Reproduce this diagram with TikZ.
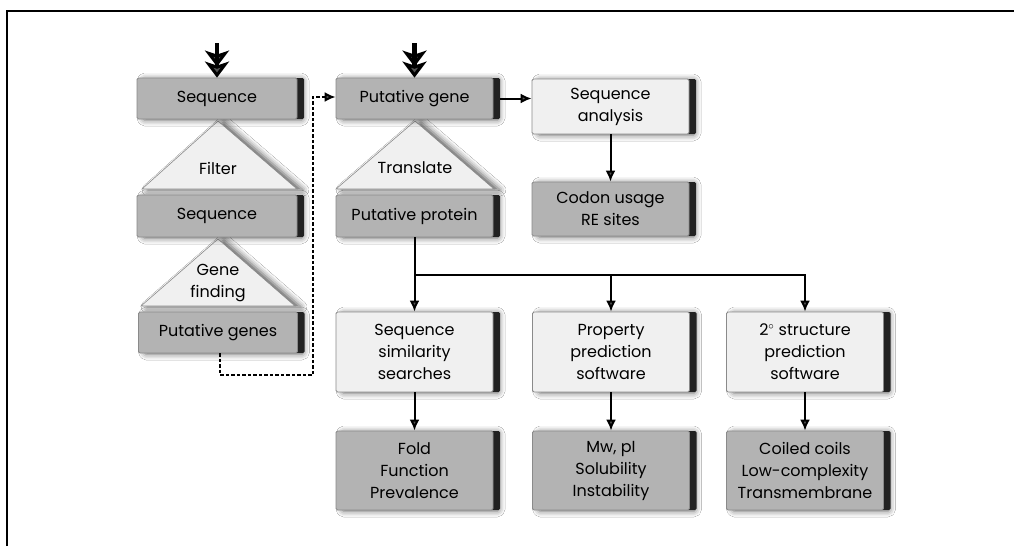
\documentclass[tikz,border=0pt]{standalone}
\usepackage{fontspec}
\setmainfont{Poppins}
\usetikzlibrary{arrows.meta,shadows.blur,calc}
\definecolor{boxdark}{HTML}{B3B3B3}
\definecolor{boxlight}{HTML}{F0F0F0}
\definecolor{edgegray}{HTML}{8A8A8A}
\definecolor{stripcol}{HTML}{222222}
\tikzset{
  boxbase/.style={draw=edgegray, line width=0.8pt, rounded corners=1.5pt,
    minimum width=157pt, align=center, inner sep=0pt,
    font=\fontsize{16}{22}\selectfont,
    blur shadow={shadow xshift=6pt, shadow yshift=-1pt, shadow blur radius=6pt, shadow opacity=60},
    general shadow={fill=stripcol, shadow xshift=7pt, shadow yshift=0pt}},
  darkbox/.style={boxbase, fill=boxdark},
  lightbox/.style={boxbase, fill=boxlight},
  tri/.style={fill=boxlight, draw=edgegray, line width=0.6pt,
    blur shadow={shadow xshift=6pt, shadow yshift=-1pt, shadow blur radius=6pt, shadow opacity=65}},
  trilabel/.style={align=center, font=\fontsize{16}{22}\selectfont, inner sep=0pt},
  conn/.style={line width=2pt, -{Latex[length=11pt,width=10pt]}},
  toparrow/.style={line width=4.5pt, -{Stealth[length=16pt,width=24pt,inset=4pt]}},
  dashconn/.style={line width=2pt, dash pattern=on 3.5pt off 2pt, -{Latex[length=11pt,width=10pt]}},
  frameline/.style={line width=2pt}
}
\begin{document}
\begin{tikzpicture}[x=1pt,y=-1pt]
\useasboundingbox (0,0) rectangle (1014,546);
\fill[white] (0,0) rectangle (1014,546);
\coordinate (fl) at (7,546);
\coordinate (ftl) at (7,11);
\coordinate (fr) at (1014,11);
\draw[frameline] (fl) -- (ftl) -- (fr);

% triangles
\path[tri] (142,189) -- (218,121) -- (297,189) -- cycle;
\path[tri] (336,189) -- (415,121) -- (494,189) -- cycle;
\path[tri] (141,306) -- (218,239) -- (295,306) -- cycle;
\node[trilabel] (tfilter) at (218,168) {Filter};
\node[trilabel] (ttrans) at (415,168) {Translate};
\node[trilabel] (tgene) at (218,283) {Gene\\finding};

% left column
\node[darkbox, minimum width=160pt, minimum height=41pt] (seqA) at (217,98.5) {Sequence};
\node[darkbox, minimum width=160pt, minimum height=42pt] (seqB) at (217,216) {Sequence};
\node[darkbox, minimum width=159pt, minimum height=41pt] (pgenes) at (218,332.5) {Putative genes};

% middle top
\node[darkbox, minimum height=41pt] (pgene) at (414.5,98.5) {Putative gene};
\node[darkbox, minimum height=42pt] (pprot) at (414.5,216) {Putative protein};
\node[lightbox, minimum height=55pt] (seqan) at (610.5,106.5) {Sequence\\analysis};
\node[darkbox, minimum height=54pt] (codon) at (610.5,209) {Codon usage\\RE sites};

% second row
\node[lightbox, minimum height=80pt] (sim) at (414.5,352) {Sequence\\similarity\\searches};
\node[lightbox, minimum height=80pt] (prop) at (611,352) {Property\\prediction\\software};
\node[lightbox, minimum height=80pt] (struct) at (805,352) {2$^\circ$ structure\\prediction\\software};

% third row
\node[darkbox, minimum height=79pt] (fold) at (414.5,470.5) {Fold\\Function\\Prevalence};
\node[darkbox, minimum height=79pt] (mw) at (611,470.5) {Mw, pI\\Solubility\\Instability};
\node[darkbox, minimum height=79pt] (coil) at (805,470.5) {Coiled coils\\Low-complexity\\Transmembrane};

% input arrows (double chevron heads)
\coordinate (inA) at (217,43);
\coordinate (inB) at (414.5,43);
\coordinate (midA) at ($(seqA.north)+(0,-11)$);
\coordinate (midB) at ($(pgene.north)+(0,-11)$);
\draw[toparrow] (inA) -- (midA);
\draw[toparrow] (inA) -- (seqA.north);
\draw[toparrow] (inB) -- (midB);
\draw[toparrow] (inB) -- (pgene.north);

% connectors
\coordinate (pgout) at ($(pgene.east)+(7,0)$);
\draw[conn] (pgout) -- (pgout -| seqan.west);
\draw[conn] (seqan.south) -- (codon.north);
\coordinate (bus) at (414.5,275);
\draw[conn] (pprot.south) -- (sim.north);
\draw[conn] (bus) -| (prop.north);
\draw[conn] (bus) -| (struct.north);
\draw[conn] (sim.south) -- (fold.north);
\draw[conn] (prop.south) -- (mw.north);
\draw[conn] (struct.south) -- (coil.north);

% dashed loop
\coordinate (d1) at (220,375);
\coordinate (d2) at (313,375);
\coordinate (d3) at (313,97);
\draw[dashconn] (pgenes.south -| d1) -- (d1) -- (d2) -- (d3) -- (d3 -| pgene.west);
\end{tikzpicture}
\end{document}
